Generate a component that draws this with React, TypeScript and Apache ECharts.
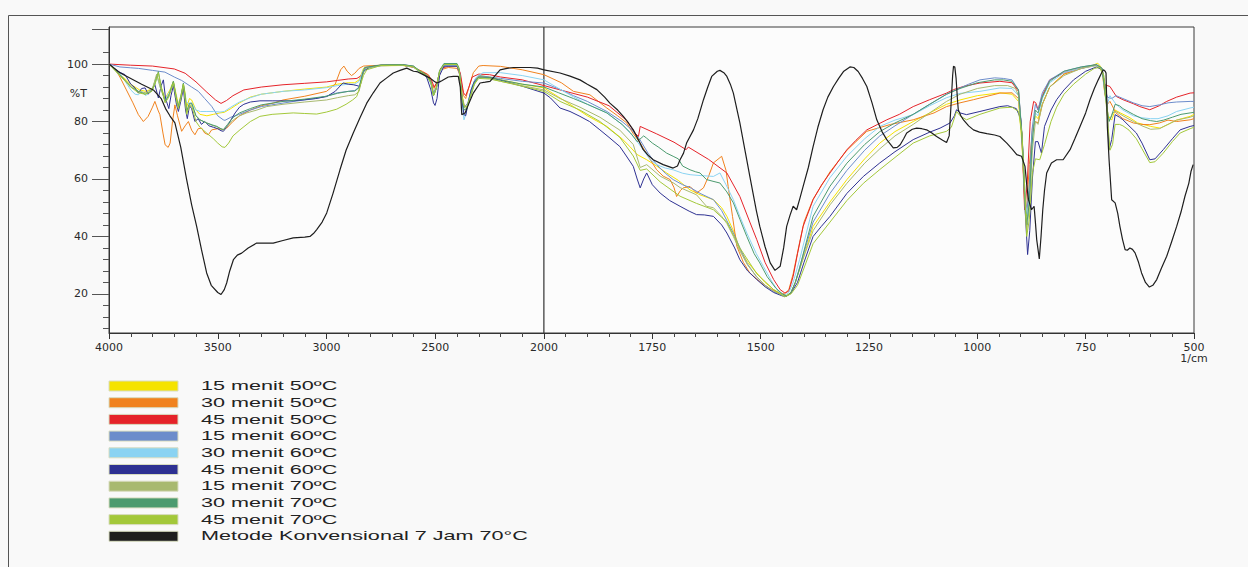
import React, { useEffect, useRef } from "react";
import * as echarts from "echarts";

const seriesNames = [
  "15 menit 50ºC",
  "30 menit 50ºC",
  "45 menit 50ºC",
  "15 menit 60ºC",
  "30 menit 60ºC",
  "45 menit 60ºC",
  "15 menit 70ºC",
  "30 menit 70ºC",
  "45 menit 70ºC",
  "Metode Konvensional 7 Jam 70°C",
];

const seriesColors = [
  "#f5e300", "#f0821e", "#e52329", "#6c8ccb", "#8ad3f2",
  "#2e3192", "#a8b96f", "#4c9b6f", "#a3c83a", "#1e1e1e",
];

// [wavenumber (1/cm), %T]
const s15m50: number[][] = [
  [4000,100],[3950,96.5],[3900,93],[3860,91],[3830,90.5],[3800,91.5],[3780,96],[3765,93],[3742,88],[3720,91],[3704,94],[3690,89],[3681,86],[3670,89],[3658,93],[3650,90],[3643,85],[3630,88],[3620,87.5],[3600,84],[3582,82.5],[3550,82],[3520,82.5],[3490,83],[3470,83.2],[3440,84.5],[3400,86.5],[3350,88.5],[3300,89.5],[3200,90.5],[3100,91.3],[3000,92],[2950,93],[2900,93.5],[2870,93.5],[2850,94.5],[2830,98.5],[2750,99.4],[2650,99.5],[2600,99],[2570,97],[2540,96],[2520,94.5],[2508,90],[2495,92],[2480,97.5],[2460,99.8],[2400,99.8],[2390,98],[2378,90],[2368,86],[2355,85],[2340,89],[2320,94],[2300,96],[2250,95.5],[2200,94.5],[2100,93],[2000,91.7],
  [1966,88.5],[1932,85.2],[1900,82],[1855,78.3],[1820,74],[1802,71.3],[1785,68.5],[1763,66.7],[1740,64.5],[1717,62.1],[1690,59.5],[1663,56.2],[1640,54.5],[1609,52.8],[1590,50],[1578,47],[1560,41],[1548,35.4],[1530,31],[1509,27.3],[1490,24],[1470,21.5],[1450,19.8],[1440,19.5],[1430,20.5],[1420,24],[1405,31],[1379,43.5],[1340,52],[1301,59.8],[1260,67],[1225,72.5],[1190,76.5],[1148,80],[1110,83],[1071,86],[1040,87.5],[1000,89],[948,90],[920,89.5],[905,87],[897,72],[890,52],[886,47],[880,58],[874,75],[866,82],[860,81],[850,86],[833,92],[800,96.5],[760,98.5],[735,99.5],[722,100.3],[712,98.5],[706,90],[698,82],[690,80.5],[682,84],[670,83],[650,81.5],[630,79.5],[600,78.3],[578,77.7],[560,79],[540,80.5],[509,81.8],[500,82.5],
];

const s30m50: number[][] = [
  [4000,100],[3970,98],[3950,95.5],[3920,91],[3890,86.5],[3865,82.4],[3842,80],[3820,81.8],[3800,85],[3789,87],[3775,84],[3766,82.4],[3752,76],[3742,71.9],[3728,71],[3719,72.5],[3708,80],[3697,85.8],[3685,82],[3666,76.6],[3650,78.5],[3635,80],[3620,77],[3605,75.4],[3590,77.5],[3574,77.7],[3560,76],[3543,75.4],[3528,77.1],[3500,77.5],[3475,77.2],[3459,77.7],[3430,80],[3400,82],[3350,84],[3300,85.5],[3245,86.4],[3200,87.5],[3100,88.8],[3000,90.5],[2960,93],[2935,98],[2920,99.3],[2905,97.5],[2885,96],[2870,96.8],[2850,98.5],[2830,99.3],[2750,99.6],[2650,99.6],[2600,98.8],[2560,97.5],[2530,96.2],[2515,93],[2505,91.5],[2490,94],[2475,98],[2440,98.8],[2400,98.5],[2385,96],[2370,89],[2360,88],[2345,92],[2325,97],[2300,99.3],[2280,99.5],[2200,99.2],[2100,98],[2000,96.3],
  [1960,93.5],[1932,90.5],[1894,89.3],[1855,84.7],[1830,82],[1809,79.5],[1795,76],[1778,72.5],[1760,68],[1740,63.2],[1725,61],[1709,59.8],[1700,57],[1694,53.9],[1685,56],[1679,56.9],[1663,57.4],[1648,55.1],[1640,56],[1632,56.9],[1620,61],[1609,65.6],[1590,67.9],[1580,63],[1575,57.4],[1565,47],[1555,36.6],[1540,31],[1525,27.3],[1500,24],[1480,22],[1460,20.5],[1445,20],[1435,21.5],[1425,27],[1410,38],[1400,45],[1379,53],[1340,62.5],[1301,70],[1255,76.6],[1200,79],[1148,80.6],[1100,83],[1071,85.2],[1040,86.5],[1009,87.6],[948,89.9],[920,90],[905,88],[897,75],[891,52],[886,50],[880,65],[872,78],[866,80],[860,79.5],[850,86],[833,92],[800,96.5],[760,98.5],[725,99.5],[712,97.5],[706,90],[700,86],[694,87],[680,83],[664,81],[640,79.5],[620,79],[602,78.9],[580,79.5],[560,80.5],[540,80],[509,80.6],[500,81],
];

const s45m50: number[][] = [
  [4000,100],[3900,99.6],[3800,99.3],[3700,98.3],[3650,96.8],[3600,93.8],[3550,90.2],[3510,87.5],[3485,86.3],[3460,87.3],[3430,89],[3380,91],[3300,92],[3200,92.8],[3100,93.3],[3000,93.8],[2950,94.3],[2900,94.8],[2860,95],[2840,96],[2820,98.8],[2750,99.5],[2650,99.6],[2600,99],[2570,97.5],[2540,96.5],[2520,95],[2505,92],[2490,94],[2475,98.5],[2440,99.2],[2400,99.2],[2385,97],[2370,90],[2360,89],[2345,92],[2330,95.5],[2300,96.5],[2250,96.3],[2200,95.5],[2100,94.5],[2000,92.5],
  [1950,90.5],[1900,88.5],[1850,85.5],[1810,80.5],[1790,76],[1782,74.8],[1778,78.3],[1740,75.7],[1700,72.8],[1672,70.2],[1667,71.1],[1620,66.8],[1578,62.1],[1548,53.9],[1525,45],[1509,38.9],[1490,31],[1470,25],[1455,21.5],[1444,20.3],[1435,21],[1425,26.1],[1415,34],[1402,43.5],[1379,52.8],[1360,57.8],[1340,62.1],[1320,66.3],[1301,70.2],[1280,73.5],[1255,77.1],[1230,79],[1209,80.6],[1180,82.5],[1148,85.2],[1110,87.6],[1071,89.9],[1055,91.1],[1030,92.3],[994,93.4],[948,94],[920,93.5],[905,90.5],[897,75],[891,49.3],[885,58],[878,80],[870,87],[865,86.5],[860,84.1],[850,89],[833,94.5],[800,97],[760,98.5],[725,99.8],[712,98],[706,92.8],[694,92.2],[679,88.7],[664,87.6],[640,86.2],[625,85.2],[602,84.1],[580,85.5],[563,87],[540,88.5],[509,89.9],[500,90],
];

const s15m60: number[][] = [
  [4000,100],[3950,99],[3900,98.7],[3865,98.5],[3800,97.8],[3743,97.2],[3700,95.5],[3666,94.3],[3620,92],[3589,90.5],[3560,88],[3528,85.3],[3500,82],[3475,80.6],[3467,80.4],[3440,81.5],[3405,82.4],[3350,84],[3300,85.2],[3252,85.8],[3150,87],[3050,88],[3007,88.7],[2950,90],[2900,90.5],[2870,90.8],[2850,92],[2835,96],[2820,98.8],[2750,99.4],[2650,99.6],[2600,99],[2570,97.5],[2540,96],[2520,94],[2508,90],[2495,92],[2480,97.5],[2460,99.3],[2400,99.3],[2388,97],[2375,88],[2365,85],[2350,86.5],[2335,91],[2315,95],[2300,96],[2250,95.5],[2200,95],[2100,94],[2000,93.4],
  [1960,91],[1932,89],[1900,87],[1855,83.5],[1820,80],[1800,77.5],[1780,74],[1760,69],[1740,65],[1720,62],[1702,59.8],[1680,58],[1660,56.8],[1640,55],[1609,52.8],[1590,49],[1578,45.5],[1563,41.2],[1545,35],[1532,30.8],[1510,26],[1490,23],[1470,20.8],[1450,19.5],[1440,19.3],[1430,20.5],[1420,24],[1405,32],[1379,45],[1340,55],[1301,63],[1260,70],[1225,75],[1190,78.5],[1148,82.5],[1110,86],[1071,89.5],[1050,91],[1020,93],[994,94.5],[960,95.2],[940,95],[920,94.5],[905,91],[897,76],[890,55],[886,48],[880,58],[874,77],[866,86],[860,84],[850,90],[833,94.5],[800,97.5],[760,99],[725,99.8],[712,98.5],[706,92],[700,88.5],[690,88],[680,89],[664,88],[640,86.5],[620,85.5],[602,85.2],[580,85.8],[560,86.5],[540,86.8],[509,87],[500,87],
];

const s30m60: number[][] = [
  [4000,100],[3950,96.8],[3900,91],[3880,89.5],[3865,89.3],[3850,90.5],[3830,89],[3800,91.5],[3780,96],[3765,92],[3742,87.5],[3720,90.5],[3704,93.5],[3690,88],[3681,85.5],[3670,88.5],[3658,92.5],[3645,87],[3630,86],[3620,86.5],[3600,84],[3580,83.5],[3550,83.5],[3520,83.5],[3490,83.3],[3470,83.5],[3440,85],[3400,86.8],[3350,88.3],[3300,89.5],[3200,90.5],[3100,91],[3000,91.8],[2950,92.5],[2900,93],[2870,93],[2850,94],[2830,98],[2750,99.5],[2650,99.6],[2600,99],[2570,97],[2540,96],[2520,93],[2508,89],[2495,91.5],[2480,97],[2460,99.5],[2400,99.5],[2390,97.5],[2378,88],[2368,80.6],[2358,83],[2345,88],[2330,92.5],[2310,95.5],[2280,97],[2200,97],[2100,96],[2000,94.5],
  [1966,91.5],[1932,88.6],[1900,86],[1855,83],[1820,79],[1794,74.8],[1775,71],[1755,66.7],[1740,65],[1720,63.8],[1702,63.2],[1680,62],[1663,61.5],[1640,61.2],[1609,60.9],[1594,62.1],[1580,58],[1563,52.8],[1548,47],[1532,41.2],[1510,34],[1494,29.6],[1475,24.5],[1460,21],[1445,19.5],[1435,20.5],[1425,24],[1410,32],[1400,38],[1379,50.5],[1340,60.5],[1301,67.9],[1260,74],[1225,78.3],[1190,80.5],[1148,82.4],[1110,85.5],[1071,88.3],[1040,89.8],[994,90.5],[948,91.7],[920,91.5],[905,89],[897,74],[890,52],[884,47],[878,58],[872,76],[866,83],[860,82],[850,88],[833,93.5],[800,97],[760,98.5],[725,99.5],[712,98],[706,91],[700,86],[694,89],[680,86],[664,84],[640,82],[620,81.3],[600,81],[583,81],[560,82],[540,83.5],[509,84.7],[500,85],
];

const s45m60: number[][] = [
  [4000,100],[3960,97.5],[3926,96.3],[3900,93],[3880,91.7],[3865,89.9],[3850,91.5],[3834,91.7],[3820,89.5],[3804,91],[3789,92.8],[3773,88.2],[3760,92.5],[3750,94.5],[3740,88],[3725,84.5],[3715,89],[3704,92.5],[3690,86],[3681,83.5],[3670,87],[3658,91.5],[3648,84],[3640,81],[3630,85.5],[3620,84.5],[3605,80],[3590,81],[3575,79],[3560,80],[3540,78.5],[3520,78],[3500,77.5],[3485,76.8],[3474,76.6],[3455,78.5],[3440,80.5],[3420,83],[3400,85],[3380,86],[3350,86.8],[3306,87.2],[3250,87.2],[3153,87.2],[3100,87.6],[3050,88],[2999,88.7],[2960,90.5],[2930,93],[2923,93.4],[2900,93],[2877,92.8],[2860,92.5],[2846,92.2],[2838,95],[2831,97.4],[2800,99],[2750,99.6],[2650,99.8],[2600,99.2],[2570,97.3],[2540,95.5],[2520,91],[2508,86.5],[2501,85.6],[2492,88],[2480,96],[2460,99.3],[2400,99.3],[2390,97.5],[2378,88],[2368,82.4],[2360,82],[2350,86],[2335,91],[2320,94],[2300,95.5],[2250,95.2],[2200,94.4],[2100,92.3],[2000,89.9],
  [1985,88.2],[1963,84.7],[1940,83.5],[1917,81.8],[1895,80],[1871,77.1],[1850,74.5],[1825,71.3],[1810,68],[1794,64.4],[1785,60],[1778,56.9],[1770,60],[1763,62.1],[1750,58],[1732,55.1],[1710,52.5],[1686,50.5],[1665,48.8],[1648,47.6],[1630,47.5],[1609,47],[1590,44],[1578,41.2],[1560,36],[1548,31.9],[1530,28],[1509,25],[1490,22.5],[1470,20.5],[1450,19.3],[1440,19.2],[1430,20.3],[1415,24],[1400,31],[1379,40],[1360,43.5],[1340,47],[1301,55],[1263,60.9],[1225,65.6],[1190,69.5],[1148,73.7],[1110,76.3],[1086,77.7],[1063,79.5],[1053,82],[1048,84.1],[1040,83],[1025,82.4],[994,83.5],[948,85.2],[930,85.5],[910,84.5],[900,81],[895,70],[890,50],[884,33.7],[879,42],[873,60],[866,73],[860,73],[852,69],[845,78.3],[830,84],[817,87.6],[800,91],[778,94.5],[750,97.5],[725,99],[712,98],[706,93],[702,89.9],[699,80],[696,70.2],[690,73.7],[682,82.4],[672,81.5],[664,80.6],[650,78.5],[633,76],[620,72.5],[602,66.7],[590,67],[571,70.2],[550,74],[532,77.1],[509,78.3],[500,78.6],
];

const s15m70: number[][] = [
  [4000,100],[3950,96],[3900,92.5],[3865,90.5],[3830,90],[3800,91.5],[3781,96.5],[3765,92],[3742,87],[3720,90],[3704,93.8],[3690,88],[3681,85.2],[3670,88],[3658,93],[3648,87],[3643,83.5],[3630,86],[3620,86.2],[3600,82],[3582,80.6],[3551,79.5],[3520,78.5],[3505,78.3],[3485,77.3],[3474,77.1],[3455,78.5],[3428,80.6],[3400,82],[3367,83],[3320,84],[3275,85.2],[3200,86],[3100,86.8],[3000,87.5],[2950,88.3],[2900,89],[2870,89.3],[2850,90.5],[2838,95],[2825,98.5],[2750,99.6],[2650,99.7],[2600,99.2],[2570,97.5],[2540,96],[2520,93.5],[2508,89],[2495,91.5],[2480,97.5],[2460,100],[2400,100],[2390,98],[2378,89],[2368,85],[2355,84.5],[2340,88],[2320,93],[2300,95.5],[2250,95],[2200,94],[2100,92.5],[2000,91],
  [1963,88],[1917,85],[1871,81.5],[1825,77],[1794,72],[1778,64],[1763,65],[1732,61],[1700,58.5],[1686,57],[1648,54.5],[1625,50.5],[1609,50],[1590,47],[1578,44.5],[1563,40],[1548,35],[1530,30],[1509,26],[1490,23],[1470,21],[1450,19.5],[1440,19.2],[1430,20.5],[1420,24],[1405,31],[1379,42],[1340,51],[1301,58.5],[1260,65.5],[1225,70.5],[1190,75],[1148,79],[1110,83],[1071,87],[1040,89.5],[1000,91.5],[960,92.5],[930,92.5],[912,91.5],[905,89],[897,74],[890,50],[886,42],[880,50],[873,70],[866,80],[860,79],[850,86],[833,92],[800,96],[760,98.5],[730,99.5],[718,99.3],[710,97],[704,88],[700,82],[695,80.5],[688,83],[680,83.5],[664,82],[640,80],[620,78.5],[600,77.3],[580,77.5],[560,79],[540,80.5],[509,81.5],[500,82],
];

const s30m70: number[][] = [
  [4000,100],[3950,96.3],[3900,92],[3865,90.5],[3834,89.5],[3804,90.5],[3789,93],[3773,97.4],[3760,92],[3742,87],[3725,89],[3704,94],[3690,88],[3681,85.2],[3670,88.5],[3658,93.4],[3650,89],[3643,83.5],[3630,86.4],[3620,86.4],[3600,82],[3582,80.6],[3551,79.5],[3505,78.3],[3485,77.5],[3474,77.2],[3455,79],[3428,81.5],[3400,83],[3350,84.5],[3300,85.8],[3200,87],[3100,87.8],[3000,88.8],[2950,89.8],[2900,90.5],[2870,90.6],[2850,91.8],[2838,95.5],[2825,98.8],[2750,99.7],[2650,99.8],[2600,99.3],[2570,97.6],[2540,96.2],[2520,93.8],[2508,89],[2495,91.5],[2480,97.8],[2460,100.2],[2400,100.2],[2390,98.5],[2378,89],[2368,84],[2355,84.5],[2340,88.5],[2320,93.5],[2300,95.5],[2250,95.3],[2200,94.5],[2100,93],[2000,92],
  [1966,90],[1932,88],[1900,86],[1855,83],[1820,79],[1800,76],[1785,73],[1770,75],[1763,74.2],[1750,72.5],[1735,71],[1717,69],[1702,67.9],[1690,67],[1680,64.5],[1663,63.2],[1650,62.5],[1640,62.1],[1625,59.8],[1610,59.2],[1594,58.6],[1578,55.5],[1563,51.7],[1548,46],[1532,40],[1515,34],[1502,30.8],[1485,26],[1465,22],[1450,20],[1440,19.3],[1430,20.5],[1420,24],[1410,29],[1400,35],[1379,47],[1340,57.5],[1301,65.5],[1260,72],[1225,76.5],[1190,79.5],[1148,82.5],[1110,86],[1071,89.5],[1040,91.5],[1000,93.5],[960,94.5],[940,94.5],[920,94],[905,91],[897,75],[890,52],[886,44],[880,52],[874,72],[866,84],[860,83],[850,88.5],[833,94],[800,97.5],[760,99],[725,99.8],[712,98.5],[706,91],[700,84],[696,80],[690,82],[682,86],[672,85.5],[664,84.5],[640,82.5],[620,81],[600,80.3],[586,80],[570,80.5],[550,81.5],[530,82.5],[509,83],[500,83.2],
];

const s45m70: number[][] = [
  [4000,100],[3950,96],[3900,92],[3865,90],[3834,89.5],[3804,90.5],[3789,93],[3773,97],[3760,92],[3742,86.5],[3725,88.5],[3704,93.5],[3690,87.5],[3681,84.5],[3670,88],[3658,93],[3650,88],[3643,82.5],[3630,85.5],[3620,85.5],[3600,80],[3582,78],[3551,76],[3520,74],[3500,72.5],[3480,71.2],[3467,71],[3450,72.5],[3430,75],[3398,77.1],[3350,80],[3306,81.8],[3250,82.5],[3153,83],[3100,82.8],[3045,82.6],[3000,83.3],[2953,84.3],[2910,86],[2880,87.5],[2861,88.7],[2846,92.2],[2830,96],[2815,98],[2750,99.5],[2650,99.6],[2600,99],[2570,97.3],[2540,96],[2520,93.5],[2508,89],[2495,91.5],[2480,97.5],[2460,99.8],[2400,99.8],[2390,98],[2378,89],[2368,85.5],[2355,85],[2340,88.5],[2320,93],[2300,95],[2250,94.8],[2200,94],[2100,92.3],[2000,90.5],
  [1963,87],[1917,84],[1871,80],[1825,74.5],[1794,68],[1778,63],[1763,63.5],[1732,59],[1686,54],[1648,51.5],[1609,49.3],[1578,45],[1548,36],[1509,27],[1470,21.5],[1445,19],[1430,20],[1415,23],[1400,29],[1379,37.5],[1340,45],[1301,52.5],[1263,58.5],[1225,63.3],[1190,67.5],[1148,72.5],[1110,75],[1071,76.6],[1060,78],[1048,83.5],[1040,82],[1025,80.6],[994,82.5],[948,84.7],[920,85],[905,83.5],[897,76],[890,55],[886,40],[880,46],[873,62],[866,67],[856,66.7],[845,72],[830,80],[817,85],[800,89.5],[778,93],[750,96.5],[730,98.5],[718,98.8],[708,96],[702,88],[698,78],[694,70],[688,72],[682,79],[672,79],[664,78.5],[650,77],[633,74],[620,70.5],[602,65.7],[590,66],[571,69],[550,73],[532,76],[509,77.5],[500,78],
];

const sKonv: number[][] = [
  [4000,100],[3950,97],[3900,95],[3850,93],[3796,91],[3760,88],[3740,84.5],[3720,82],[3697,79.5],[3670,71],[3643,59.8],[3620,51],[3597,43.5],[3575,35.5],[3551,27.3],[3530,23],[3500,20.5],[3485,19.8],[3470,21.5],[3459,23.8],[3445,28],[3428,31.9],[3410,33.5],[3390,34.2],[3360,36],[3321,37.7],[3280,37.7],[3245,37.7],[3200,38.6],[3153,39.5],[3100,39.8],[3076,40],[3060,41],[3045,42.4],[3020,45],[2999,48.2],[2970,55],[2938,63.2],[2910,70],[2877,76],[2845,81.5],[2815,86.4],[2785,90],[2754,93.4],[2723,95.2],[2693,96.9],[2662,97.8],[2631,98.6],[2600,97.5],[2585,97.4],[2560,96.5],[2524,95.1],[2505,94],[2493,93.4],[2480,93.8],[2470,94.2],[2440,95.5],[2417,95.7],[2394,95.7],[2385,92],[2378,82.4],[2363,83],[2348,85.8],[2325,89.9],[2294,93.4],[2270,93.7],[2248,94],[2225,96],[2202,98],[2170,98.5],[2141,98.8],[2100,98.8],[2064,98.8],[2030,98.6],[2000,98],
  [1963,96.9],[1940,95.8],[1917,94.5],[1900,93],[1878,91.1],[1860,88.5],[1848,86.4],[1830,84],[1817,81.8],[1805,79.5],[1794,77.1],[1780,73],[1771,70.2],[1760,68.3],[1748,66.7],[1725,65],[1702,63.8],[1692,64.5],[1686,66.7],[1678,69],[1671,72.5],[1655,77.1],[1645,81],[1632,87.6],[1622,92],[1613,95.7],[1600,97.5],[1594,97.8],[1585,97],[1578,95.7],[1570,93],[1563,89.9],[1548,79.5],[1535,69],[1525,60.9],[1510,49],[1502,43.5],[1490,36.5],[1478,30.8],[1467,28.2],[1455,29.6],[1447,36],[1440,43.5],[1432,47.5],[1425,50.5],[1417,49.3],[1410,53],[1402,57.4],[1390,64],[1379,71.3],[1368,78],[1356,84.1],[1345,88.5],[1332,92.2],[1320,95],[1309,97.4],[1294,99],[1285,98.8],[1275,97.4],[1265,95],[1255,92.2],[1243,86.5],[1232,80.6],[1220,76.5],[1209,73.7],[1194,70.8],[1185,71],[1178,71.9],[1170,74],[1163,76],[1150,77.3],[1140,77.7],[1128,77.5],[1117,77.1],[1105,76],[1094,74.8],[1080,73.5],[1071,72.7],[1065,75],[1061,85],[1057,96],[1055,99.2],[1052,99],[1049,95],[1046,88],[1044,84.1],[1038,82],[1032,80.6],[1020,78.5],[1009,77.1],[995,76.3],[978,75.8],[960,75.3],[948,74.8],[932,72.5],[920,70.5],[909,68.5],[898,67.9],[890,64.4],[886,58],[882,52.8],[875,49.3],[869,50.5],[866,45],[863,38.9],[857,32.2],[853,40],[849,49.3],[845,56],[840,62.1],[829,65.6],[817,66.7],[802,66.7],[786,70.2],[775,74],[763,78.3],[750,83],[740,87.6],[730,91.5],[721,94.5],[712,97.3],[709,98],[705,97.5],[703,96.9],[700,78.3],[696,66.7],[690,52.8],[682,51.7],[676,48],[671,43.5],[665,39],[659,35.4],[654,35.2],[648,36],[642,35.5],[636,34.3],[628,31],[621,27.3],[612,24],[603,22.4],[595,23],[586,25],[575,29],[563,33.1],[552,38],[540,43.5],[530,48.5],[521,53.9],[512,58.5],[507,62.6],[502,65],
];

const allSeries = [s15m50, s30m50, s45m50, s15m60, s30m60, s45m60, s15m70, s30m70, s45m70, sKonv];

const yLabelValues = [20, 40, 60, 80, 100];
const yMajorTickValues = [20, 40, 60, 80, 100, 112];
const yMinorTickValues = [8, 12, 16, 24, 28, 32, 36, 44, 48, 52, 56, 64, 68, 72, 76, 84, 88, 92, 96, 104];

const Y_MIN = 6.4;
const Y_MAX = 112.9;

export default function App() {
  const ref = useRef<HTMLDivElement>(null);

  useEffect(() => {
    if (!ref.current) return;
    const chart = echarts.init(ref.current, null, { renderer: "svg" });

    const series: any[] = [];
    allSeries.forEach((d, i) => {
      const common = {
        type: "line",
        name: seriesNames[i],
        showSymbol: false,
        symbol: "none",
        color: seriesColors[i],
        lineStyle: { width: i === 9 ? 1.2 : 1, color: seriesColors[i] },
        silent: true,
        z: 2 + i,
      };
      series.push({ ...common, xAxisIndex: 0, yAxisIndex: 0, data: d.filter((p) => p[0] >= 2000) });
      series.push({ ...common, xAxisIndex: 1, yAxisIndex: 2, data: d.filter((p) => p[0] <= 2000) });
    });

    const labelFont = { fontSize: 11, fontFamily: "DejaVu Sans", color: "#2a2a2a" };
    const plain = (v: number) => String(v);

    const legendGraphics: any[] = [];
    seriesNames.forEach((name, i) => {
      const cy = 386 + i * 16.7;
      legendGraphics.push({
        type: "rect",
        shape: { x: 109, y: cy - 5, width: 69, height: 10 },
        style: { fill: seriesColors[i], stroke: "#d8dcc0", lineWidth: 1 },
      });
      legendGraphics.push({
        type: "text",
        x: 201,
        y: cy,
        scaleX: 1.8,
        style: {
          text: name,
          fontSize: 12,
          fontFamily: "Liberation Sans, Arial, sans-serif",
          fill: "#222",
          verticalAlign: "middle",
        },
      });
    });

    chart.setOption({
      animation: false,
      backgroundColor: "#f9f9f9",
      grid: [
        { left: 109, top: 27, width: 435, height: 306, show: true, borderColor: "#3a3a3a", borderWidth: 1, backgroundColor: "#fcfcfc" },
        { left: 544, top: 27, width: 650, height: 306, show: true, borderColor: "#3a3a3a", borderWidth: 1, backgroundColor: "#fcfcfc" },
      ],
      xAxis: [
        {
          type: "value", gridIndex: 0, min: 2000, max: 4000, interval: 500, inverse: true,
          axisLine: { show: true, lineStyle: { color: "#333" } },
          axisTick: { show: true, length: 6, lineStyle: { color: "#333" } },
          minorTick: { show: true, splitNumber: 5, length: 4, lineStyle: { color: "#444" } },
          splitLine: { show: false },
          axisLabel: { ...labelFont, margin: 9, showMinLabel: false, formatter: plain },
        },
        {
          type: "value", gridIndex: 1, min: 500, max: 2000, interval: 250, inverse: true,
          axisLine: { show: true, lineStyle: { color: "#333" } },
          axisTick: { show: true, length: 6, lineStyle: { color: "#333" } },
          minorTick: { show: true, splitNumber: 5, length: 4, lineStyle: { color: "#444" } },
          splitLine: { show: false },
          axisLabel: { ...labelFont, margin: 9, formatter: plain },
          name: "1/cm",
          nameLocation: "start",
          nameGap: 0,
          nameTextStyle: { ...labelFont, align: "center", verticalAlign: "top", padding: [20, 0, 0, 0] },
        },
      ],
      yAxis: [
        {
          type: "value", gridIndex: 0, min: Y_MIN, max: Y_MAX, position: "left",
          axisLine: { show: true, lineStyle: { color: "#333" } },
          axisTick: { show: true, length: 17, customValues: yMajorTickValues, lineStyle: { color: "#555" } },
          axisLabel: { ...labelFont, margin: 21, customValues: yLabelValues, formatter: plain },
          splitLine: { show: false },
          name: "%T",
          nameLocation: "end",
          nameGap: -66,
          nameTextStyle: { ...labelFont, align: "right", verticalAlign: "middle", padding: [0, 22, 0, 0] },
        },
        {
          type: "value", gridIndex: 0, min: Y_MIN, max: Y_MAX, position: "left", offset: 0,
          axisLine: { show: false },
          axisTick: { show: true, length: 6, customValues: yMinorTickValues, lineStyle: { color: "#555" } },
          axisLabel: { show: false },
          splitLine: { show: false },
        },
        {
          type: "value", gridIndex: 1, min: Y_MIN, max: Y_MAX, show: false,
          splitLine: { show: false },
        },
      ],
      graphic: [
        {
          type: "rect",
          z: -10,
          silent: true,
          shape: { x: 8.5, y: 15.5, width: 1300, height: 600 },
          style: { fill: "none", stroke: "#555", lineWidth: 1 },
        },
        ...legendGraphics,
      ],
      series,
    });

    return () => chart.dispose();
  }, []);

  return (
    <div
      ref={ref}
      style={{ position: "fixed", left: 0, top: 0, width: 1248, height: 567 }}
    />
  );
}
